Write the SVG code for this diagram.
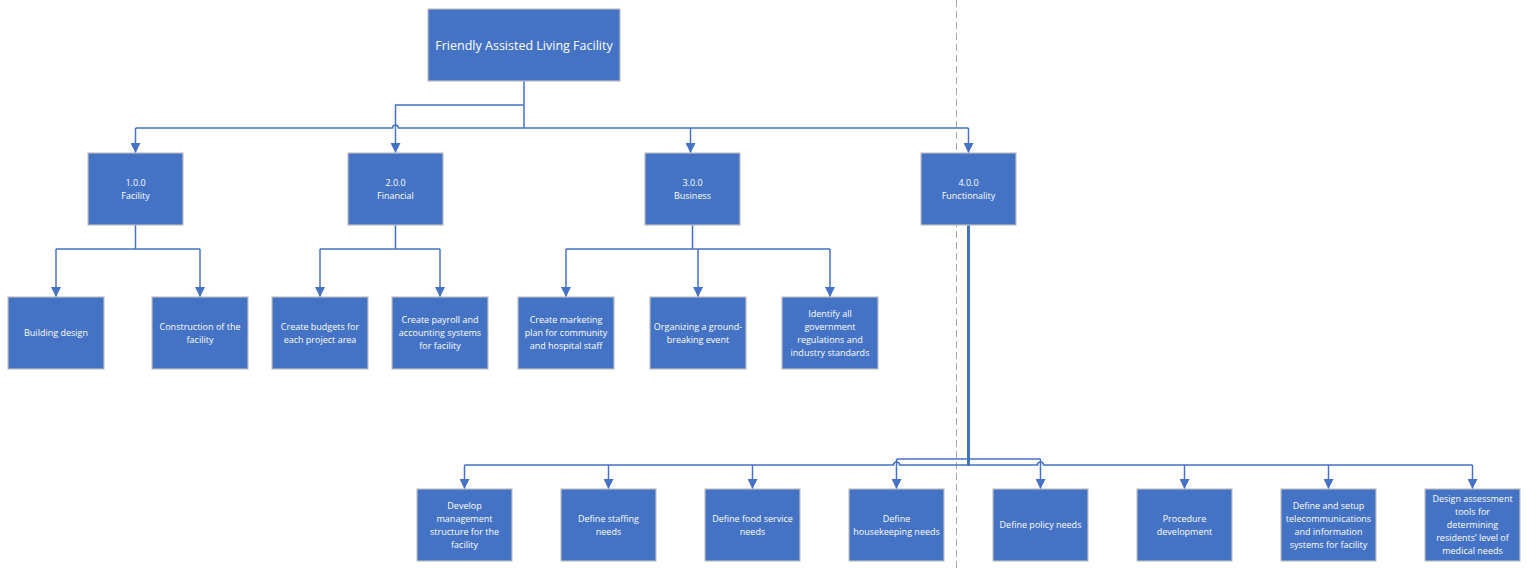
<svg xmlns="http://www.w3.org/2000/svg" width="1529" height="568" viewBox="0 0 1529 568">
<style>
.box{fill:#4472C4;stroke:#BFBFBF;stroke-width:1.2}
.t{fill:#FFFFFF;font-family:"Open Sans","Noto Sans","Liberation Sans",sans-serif;font-size:9px;text-anchor:middle}
.tr{font-size:12.5px}
.c{fill:none;stroke:#4472C4;stroke-width:1.5}
.a{fill:none;stroke:#4472C4;stroke-width:1.5;marker-end:url(#arr)}
</style>
<defs>
<marker id="arr" viewBox="0 0 10 10" refX="10" refY="5" markerWidth="10" markerHeight="10" markerUnits="userSpaceOnUse" orient="auto">
<path d="M0,0 L10,5 L0,10 z" fill="#4472C4"/>
</marker>
</defs>
<rect width="1529" height="568" fill="#FFFFFF"/>
<line x1="956.5" y1="0" x2="956.5" y2="568" stroke="#A6A6A6" stroke-width="1" stroke-dasharray="7,4"/>
<g id="connectors">
<path class="c" d="M524,81 V128"/>
<path class="c" d="M135.5,128 H392.5 A3,3 0 0 1 398.5,128 H968.5"/>
<path class="a" d="M135.5,128 V153"/>
<path class="a" d="M524,105 H395.5 V153"/>
<path class="a" d="M690.5,128 V153"/>
<path class="a" d="M968.5,128 V153"/>
<path class="c" d="M135.5,225 V249 M56,249 H200"/>
<path class="a" d="M56,249 V297"/>
<path class="a" d="M200,249 V297"/>
<path class="c" d="M395.5,225 V249 M320,249 H440"/>
<path class="a" d="M320,249 V297"/>
<path class="a" d="M440,249 V297"/>
<path class="c" d="M692.5,225 V249 M566,249 H830"/>
<path class="a" d="M566,249 V297"/>
<path class="a" d="M698,249 V297"/>
<path class="a" d="M830,249 V297"/>
<path class="c" style="stroke-width:3" d="M968.5,225 V466"/>
<path class="c" d="M464.5,465 H893.5 A3,3 0 0 1 899.5,465 H1037.5 A3,3 0 0 1 1043.5,465 H1472.5"/>
<path class="c" d="M896.5,459 H1040.5"/>
<path class="a" d="M464.5,465 V489"/>
<path class="a" d="M608.5,465 V489"/>
<path class="a" d="M752.5,465 V489"/>
<path class="a" d="M896.5,459 V489"/>
<path class="a" d="M1040.5,459 V489"/>
<path class="a" d="M1184.5,465 V489"/>
<path class="a" d="M1328.5,465 V489"/>
<path class="a" d="M1472.5,465 V489"/>
</g>
<g id="root"><rect class="box" x="428" y="9" width="192" height="72"/><text class="t tr" x="524" y="49.5">Friendly Assisted Living Facility</text></g>
<g id="n1"><rect class="box" x="88" y="153" width="95" height="72"/><text class="t" x="135.5" y="185.7">1.0.0</text><text class="t" x="135.5" y="198.7">Facility</text></g>
<g id="n2"><rect class="box" x="348" y="153" width="95" height="72"/><text class="t" x="395.5" y="185.7">2.0.0</text><text class="t" x="395.5" y="198.7">Financial</text></g>
<g id="n3"><rect class="box" x="645" y="153" width="95" height="72"/><text class="t" x="692.5" y="185.7">3.0.0</text><text class="t" x="692.5" y="198.7">Business</text></g>
<g id="n4"><rect class="box" x="921" y="153" width="95" height="72"/><text class="t" x="968.5" y="185.7">4.0.0</text><text class="t" x="968.5" y="198.7">Functionality</text></g>
<g id="n11"><rect class="box" x="8" y="297" width="96" height="72"/><text class="t" x="56" y="336.2">Building design</text></g>
<g id="n12"><rect class="box" x="152" y="297" width="96" height="72"/><text class="t" x="200" y="329.7">Construction of the</text><text class="t" x="200" y="342.7">facility</text></g>
<g id="n21"><rect class="box" x="272" y="297" width="96" height="72"/><text class="t" x="320" y="329.7">Create budgets for</text><text class="t" x="320" y="342.7">each project area</text></g>
<g id="n22"><rect class="box" x="392" y="297" width="96" height="72"/><text class="t" x="440" y="323.2">Create payroll and</text><text class="t" x="440" y="336.2">accounting systems</text><text class="t" x="440" y="349.2">for facility</text></g>
<g id="n31"><rect class="box" x="518" y="297" width="96" height="72"/><text class="t" x="566" y="323.2">Create marketing</text><text class="t" x="566" y="336.2">plan for community</text><text class="t" x="566" y="349.2">and hospital staff</text></g>
<g id="n32"><rect class="box" x="650" y="297" width="96" height="72"/><text class="t" x="698" y="329.7">Organizing a ground-</text><text class="t" x="698" y="342.7">breaking event</text></g>
<g id="n33"><rect class="box" x="782" y="297" width="96" height="72"/><text class="t" x="830" y="316.7">Identify all</text><text class="t" x="830" y="329.7">government</text><text class="t" x="830" y="342.7">regulations and</text><text class="t" x="830" y="355.7">industry standards</text></g>
<g id="n41"><rect class="box" x="417" y="489" width="95" height="72"/><text class="t" x="464.5" y="508.7">Develop</text><text class="t" x="464.5" y="521.7">management</text><text class="t" x="464.5" y="534.7">structure for the</text><text class="t" x="464.5" y="547.7">facility</text></g>
<g id="n42"><rect class="box" x="561" y="489" width="95" height="72"/><text class="t" x="608.5" y="521.7">Define staffing</text><text class="t" x="608.5" y="534.7">needs</text></g>
<g id="n43"><rect class="box" x="705" y="489" width="95" height="72"/><text class="t" x="752.5" y="521.7">Define food service</text><text class="t" x="752.5" y="534.7">needs</text></g>
<g id="n44"><rect class="box" x="849" y="489" width="95" height="72"/><text class="t" x="896.5" y="521.7">Define</text><text class="t" x="896.5" y="534.7">housekeeping needs</text></g>
<g id="n45"><rect class="box" x="993" y="489" width="95" height="72"/><text class="t" x="1040.5" y="528.2">Define policy needs</text></g>
<g id="n46"><rect class="box" x="1137" y="489" width="95" height="72"/><text class="t" x="1184.5" y="521.7">Procedure</text><text class="t" x="1184.5" y="534.7">development</text></g>
<g id="n47"><rect class="box" x="1281" y="489" width="95" height="72"/><text class="t" x="1328.5" y="508.7">Define and setup</text><text class="t" x="1328.5" y="521.7">telecommunications</text><text class="t" x="1328.5" y="534.7">and information</text><text class="t" x="1328.5" y="547.7">systems for facility</text></g>
<g id="n48"><rect class="box" x="1425" y="489" width="95" height="72"/><text class="t" x="1472.5" y="502.2">Design assessment</text><text class="t" x="1472.5" y="515.2">tools for</text><text class="t" x="1472.5" y="528.2">determining</text><text class="t" x="1472.5" y="541.2">residents’ level of</text><text class="t" x="1472.5" y="554.2">medical needs</text></g>
</svg>
